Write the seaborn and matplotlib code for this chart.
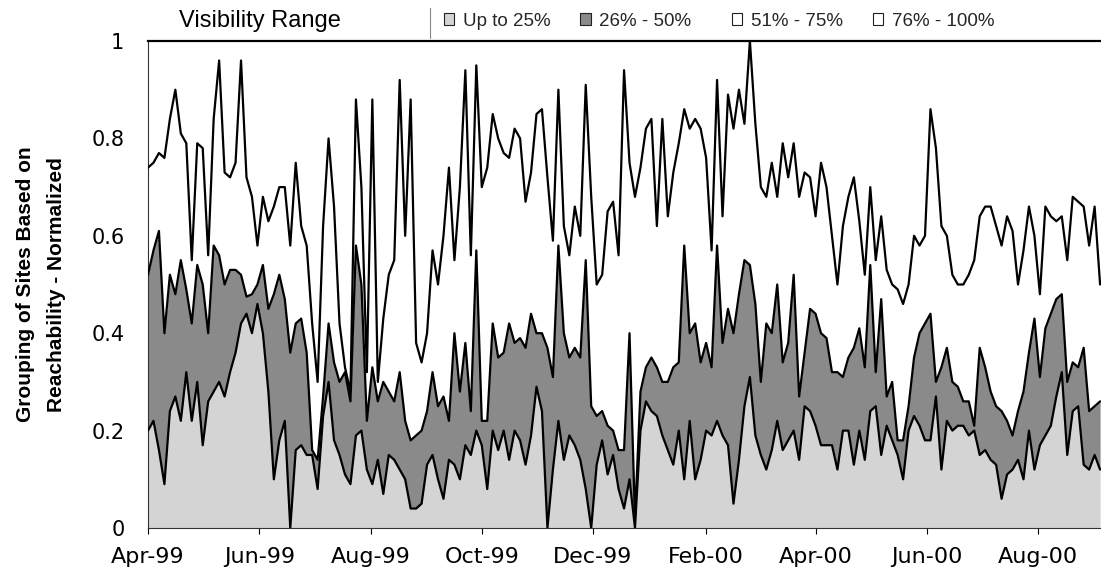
import numpy as np
import pandas as pd
import matplotlib
matplotlib.use('Agg')
import matplotlib.pyplot as plt
import matplotlib.dates as mdates
from matplotlib.patches import Patch
from matplotlib.lines import Line2D
import seaborn as sns

# ---------------- data (cumulative normalized shares, every 3 days) ----------------
start_date = '1999-04-01'
sample_step = '3D'

up_to_25 = [
    0.20, 0.22, 0.16, 0.09, 0.24, 0.27, 0.22, 0.32, 0.22, 0.30,
    0.17, 0.26, 0.28, 0.30, 0.27, 0.32, 0.36, 0.42, 0.44, 0.40,
    0.46, 0.40, 0.28, 0.10, 0.18, 0.22, 0.00, 0.16, 0.17, 0.15,
    0.15, 0.08, 0.23, 0.30, 0.18, 0.15, 0.11, 0.09, 0.19, 0.20,
    0.12, 0.09, 0.14, 0.07, 0.15, 0.14, 0.12, 0.10, 0.04, 0.04,
    0.05, 0.13, 0.15, 0.10, 0.06, 0.14, 0.13, 0.10,
    0.17, 0.15, 0.20, 0.17, 0.08, 0.20, 0.16, 0.20, 0.14, 0.20,
    0.18, 0.13, 0.19, 0.29, 0.24, 0.00, 0.12, 0.22, 0.14, 0.19,
    0.17, 0.14, 0.08, 0.00, 0.13, 0.18, 0.11, 0.15, 0.08, 0.04,
    0.10, 0.00, 0.20, 0.26, 0.24, 0.23, 0.19, 0.16, 0.13, 0.20,
    0.10, 0.22, 0.10, 0.14, 0.20, 0.19, 0.22, 0.19, 0.17, 0.05,
    0.14, 0.25, 0.31, 0.19, 0.15, 0.12, 0.16, 0.22, 0.16, 0.18,
    0.20, 0.14, 0.25, 0.24, 0.21, 0.17, 0.17, 0.17, 0.12, 0.20,
    0.20, 0.13, 0.20, 0.14, 0.24, 0.25, 0.15, 0.21, 0.18, 0.15,
    0.10, 0.20, 0.23, 0.21, 0.18, 0.18, 0.27, 0.12, 0.22, 0.20,
    0.21,
    0.21, 0.19, 0.20, 0.15, 0.16, 0.14, 0.13, 0.06, 0.11, 0.12,
    0.14, 0.10, 0.20, 0.12, 0.17, 0.19, 0.21, 0.27, 0.32, 0.15,
    0.24, 0.25, 0.13, 0.12, 0.15, 0.12,
]

up_to_50 = [
    0.52, 0.57, 0.61, 0.40, 0.52, 0.48, 0.55, 0.49, 0.42, 0.54,
    0.50, 0.40, 0.58, 0.56, 0.50, 0.53, 0.53, 0.52, 0.475, 0.48,
    0.50, 0.54, 0.45, 0.48, 0.52, 0.47, 0.36, 0.42, 0.43, 0.36,
    0.16, 0.14, 0.27, 0.42, 0.34, 0.30, 0.32, 0.26, 0.58, 0.50,
    0.22, 0.33, 0.26, 0.30, 0.28, 0.26, 0.32, 0.22, 0.18, 0.19,
    0.20, 0.24, 0.32, 0.25, 0.27, 0.22, 0.40, 0.28,
    0.38, 0.24, 0.57, 0.22, 0.22, 0.42, 0.35, 0.36, 0.42, 0.38,
    0.39, 0.37, 0.44, 0.40, 0.40, 0.37, 0.31, 0.58, 0.40, 0.35,
    0.37, 0.35, 0.55, 0.25, 0.23, 0.24, 0.21, 0.20, 0.16, 0.16,
    0.40, 0.02, 0.28, 0.33, 0.35, 0.33, 0.30, 0.30, 0.33, 0.34,
    0.58, 0.40, 0.42, 0.34, 0.38, 0.33, 0.58, 0.38, 0.45, 0.40,
    0.48, 0.55, 0.54, 0.46, 0.30, 0.42, 0.40, 0.50, 0.34, 0.38,
    0.52, 0.27, 0.36, 0.45, 0.44, 0.40, 0.39, 0.32, 0.32, 0.31,
    0.35, 0.37, 0.41, 0.33, 0.54, 0.32, 0.47, 0.27, 0.30, 0.18,
    0.18, 0.25, 0.35, 0.40, 0.42, 0.44, 0.30, 0.33, 0.37, 0.30,
    0.29,
    0.26, 0.26, 0.21, 0.37, 0.33, 0.28, 0.25, 0.24, 0.22, 0.19,
    0.24, 0.28, 0.36, 0.43, 0.31, 0.41, 0.44, 0.47, 0.48, 0.30,
    0.34, 0.33, 0.37, 0.24, 0.25, 0.26,
]

up_to_75 = [
    0.74, 0.75, 0.77, 0.76, 0.84, 0.90, 0.81, 0.79, 0.55, 0.79,
    0.78, 0.56, 0.84, 0.96, 0.73, 0.72, 0.75, 0.96, 0.72, 0.68,
    0.58, 0.68, 0.63, 0.66, 0.70, 0.70, 0.58, 0.75, 0.62, 0.58,
    0.42, 0.30, 0.62, 0.80, 0.66, 0.42, 0.33, 0.28, 0.88, 0.70,
    0.32, 0.88, 0.30, 0.43, 0.52, 0.55, 0.92, 0.60, 0.88, 0.38,
    0.34, 0.40, 0.57, 0.50, 0.60, 0.74, 0.55, 0.70,
    0.94, 0.56, 0.95, 0.70, 0.74, 0.85, 0.80, 0.77, 0.76, 0.82,
    0.80, 0.67, 0.73, 0.85, 0.86, 0.72, 0.59, 0.90, 0.62, 0.56,
    0.66, 0.60, 0.91, 0.68, 0.50, 0.52, 0.65, 0.67, 0.56, 0.94,
    0.75, 0.68, 0.74, 0.82, 0.84, 0.62, 0.84, 0.64, 0.73, 0.79,
    0.86, 0.82, 0.84, 0.82, 0.76, 0.57, 0.92, 0.64, 0.89, 0.82,
    0.90, 0.83, 1.00, 0.83, 0.70, 0.68, 0.75, 0.68, 0.79, 0.72,
    0.79, 0.68, 0.73, 0.72, 0.64, 0.75, 0.70, 0.60, 0.50, 0.62,
    0.68, 0.72, 0.63, 0.52, 0.70, 0.55, 0.64, 0.53, 0.50, 0.49,
    0.46, 0.50, 0.60, 0.58, 0.60, 0.86, 0.78, 0.62, 0.60, 0.52,
    0.50,
    0.50, 0.52, 0.55, 0.64, 0.66, 0.66, 0.62, 0.58, 0.64, 0.61,
    0.50, 0.57, 0.66, 0.60, 0.48, 0.66, 0.64, 0.63, 0.64, 0.55,
    0.68, 0.67, 0.66, 0.58, 0.66, 0.50,
]

legend_title = 'Visibility Range'
legend_labels = ['Up to 25%', '26% - 50%', '51% - 75%', '76% - 100%']
y_ticks = [0, 0.2, 0.4, 0.6, 0.8, 1.0]
y_label = 'Grouping of Sites Based on\nReachability - Normalized'
x_end_date = '2000-09-04 12:00'

# ---------------- style ----------------
sns.set_theme(style='white')
plt.rcParams['font.family'] = ['DejaVu Sans']

light_fill = '#d4d4d4'
dark_fill = '#8a8a8a'
band_colors = [light_fill, dark_fill, 'white', 'white']

W, H = 1101, 571
fig = plt.figure(figsize=(W / 100, H / 100), dpi=100)
ax = fig.add_axes([148 / W, 1 - 528 / H, 953 / W, 487 / H])

dates = pd.date_range(start_date, periods=len(up_to_25), freq=sample_step)
df = pd.DataFrame({'date': dates, 'l1': up_to_25, 'l2': up_to_50, 'l3': up_to_75})

ax.fill_between(df['date'], 0, df['l1'], color=light_fill, lw=0, zorder=1)
ax.fill_between(df['date'], df['l1'], df['l2'], color=dark_fill, lw=0, zorder=1)
ax.fill_between(df['date'], df['l2'], df['l3'], color='white', lw=0, zorder=1)

for col in ['l3', 'l2', 'l1']:
    sns.lineplot(data=df, x='date', y=col, color='black', lw=1.6, ax=ax, zorder=3)

ax.set_xlim(pd.Timestamp(start_date), pd.Timestamp(x_end_date))
ax.set_ylim(0, 1)

ax.xaxis.set_major_locator(mdates.MonthLocator(bymonth=[2, 4, 6, 8, 10, 12]))
ax.xaxis.set_major_formatter(mdates.DateFormatter('%b-%y'))
ax.set_yticks(y_ticks)
ax.set_yticklabels([f'{v:g}' for v in y_ticks])

ax.tick_params(axis='x', which='major', direction='out', length=4, width=0.8,
               color='black', pad=10, labelsize=16, bottom=True)
ax.tick_params(axis='y', length=0, pad=17, labelsize=15)
for lab in ax.get_xticklabels() + ax.get_yticklabels():
    lab.set_color('black')

for side in ['left', 'bottom']:
    ax.spines[side].set_color('#333333')
    ax.spines[side].set_linewidth(0.8)
ax.spines['top'].set_color('black')
ax.spines['top'].set_linewidth(1.6)
ax.spines['right'].set_visible(False)

ax.set_xlabel('')
ax.set_ylabel(y_label, fontsize=15, fontweight='bold',
              family=['Liberation Sans'],
              linespacing=1.75, va='center', color='black')
ax.yaxis.set_label_coords((41 - 148) / 953, 0.5)

# ---------------- legend row ----------------
fig.text(179 / W, 1 - 21 / H, legend_title, fontsize=17, va='center', ha='left',
         family=['Liberation Sans'], color='black')
fig.add_artist(Line2D([430 / W, 430 / W], [1 - 8 / H, 1 - 38 / H],
                      color='#888888', lw=0.8, transform=fig.transFigure))
handles = [Patch(facecolor=c, edgecolor='#222222', lw=0.8) for c in band_colors]
legend_kw = dict(loc='center left', ncol=2, frameon=False,
                 handlelength=0.55, handleheight=0.55, handletextpad=0.45,
                 columnspacing=1.6, borderpad=0, borderaxespad=0,
                 prop={'family': 'Liberation Sans', 'size': 13.5})
fig.legend(handles[:2], legend_labels[:2], bbox_to_anchor=(444 / W, 1 - 21 / H), **legend_kw)
fig.legend(handles[2:], legend_labels[2:], bbox_to_anchor=(732 / W, 1 - 21 / H), **legend_kw)

fig.savefig('out.png', dpi=100)
